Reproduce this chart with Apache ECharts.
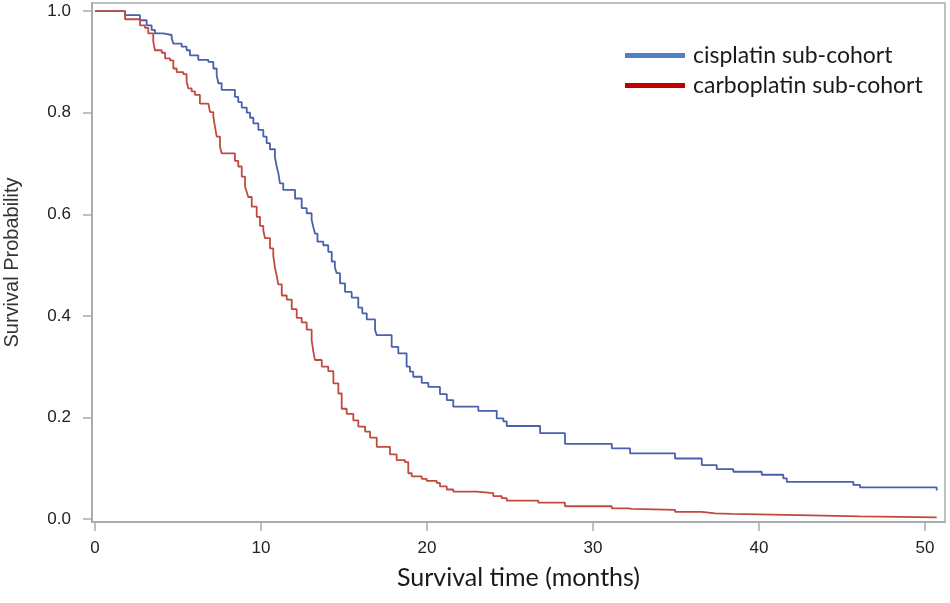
<!DOCTYPE html>
<html>
<head>
<meta charset="utf-8">
<script src="https://cdn.jsdelivr.net/npm/echarts@6/dist/echarts.min.js"></script>
<style>
html,body{margin:0;padding:0;background:#fff;}
#chart{width:950px;height:603px;}
</style>
</head>
<body>
<div id="chart"></div>
<script>
// Kaplan-Meier step points: [time (months), survival probability]
const seriesNames = ["cisplatin sub-cohort", "carboplatin sub-cohort"];
const xTicks = [0, 10, 20, 30, 40, 50];
const yTicks = [0, 0.2, 0.4, 0.6, 0.8, 1.0];

const cisplatin = [
  [0,1.0],[1.81,0.992],[2.71,0.982],[3.11,0.972],[3.41,0.963],[3.61,0.956],[4.12,0.953],
  [4.62,0.946],[4.72,0.936],[5.22,0.930],[5.52,0.923],[5.72,0.913],[6.22,0.904],[6.83,0.900],
  [7.13,0.887],[7.33,0.874],[7.43,0.858],[7.63,0.845],[8.43,0.831],[8.63,0.821],[8.84,0.810],
  [9.14,0.800],[9.34,0.790],[9.54,0.779],[9.84,0.766],[10.14,0.753],[10.34,0.740],[10.54,0.728],
  [10.84,0.712],[10.94,0.695],[11.05,0.680],[11.14,0.661],[11.34,0.648],[12.05,0.631],[12.45,0.612],
  [12.75,0.602],[13.05,0.589],[13.15,0.575],[13.25,0.562],[13.40,0.546],[13.75,0.539],[14.05,0.526],
  [14.26,0.507],[14.45,0.495],[14.56,0.484],[14.76,0.464],[15.06,0.447],[15.46,0.436],[15.86,0.416],
  [16.10,0.405],[16.37,0.393],[16.87,0.372],[16.97,0.362],[17.87,0.339],[18.27,0.326],[18.77,0.300],
  [18.97,0.290],[19.17,0.280],[19.68,0.268],[20.08,0.260],[20.78,0.246],[21.19,0.234],[21.58,0.221],
  [23.09,0.213],[24.20,0.198],[24.60,0.192],[24.80,0.183],[26.81,0.169],[28.31,0.148],[31.13,0.139],
  [32.23,0.129],[34.94,0.119],[36.55,0.106],[37.45,0.098],[38.45,0.093],[40.16,0.087],[41.46,0.080],
  [41.67,0.073],[45.68,0.067],[46.08,0.062],[50.70,0.056]
];

const carboplatin = [
  [0,1.0],[1.81,0.984],[2.71,0.972],[3.01,0.967],[3.21,0.956],[3.51,0.940],[3.61,0.923],[4.02,0.918],
  [4.22,0.907],[4.52,0.903],[4.72,0.887],[4.92,0.880],[5.32,0.876],[5.52,0.861],[5.62,0.848],
  [5.82,0.842],[6.02,0.835],[6.32,0.818],[6.83,0.815],[6.93,0.801],[7.13,0.792],[7.23,0.772],
  [7.33,0.753],[7.53,0.733],[7.63,0.720],[8.43,0.705],[8.63,0.694],[8.84,0.674],[9.04,0.654],
  [9.14,0.644],[9.23,0.634],[9.44,0.615],[9.74,0.595],[9.94,0.577],[10.14,0.568],[10.24,0.553],
  [10.54,0.533],[10.74,0.518],[10.84,0.495],[10.94,0.480],[11.04,0.462],[11.25,0.440],[11.55,0.432],
  [11.85,0.413],[12.15,0.396],[12.45,0.387],[12.75,0.373],[13.05,0.352],[13.15,0.330],[13.25,0.313],
  [13.66,0.300],[14.05,0.291],[14.36,0.267],[14.66,0.247],[14.86,0.217],[15.16,0.207],[15.56,0.194],
  [15.86,0.182],[16.27,0.172],[16.57,0.160],[16.97,0.142],[17.77,0.127],[18.17,0.116],[18.67,0.112],
  [18.87,0.090],[19.08,0.084],[19.68,0.079],[19.98,0.075],[20.58,0.071],[20.78,0.064],[21.19,0.058],
  [21.58,0.054],[22.99,0.051],[23.99,0.045],[24.50,0.041],[24.80,0.036],[26.70,0.032],[28.31,0.025],
  [31.13,0.021],[32.13,0.020],[32.33,0.018],[34.94,0.014],[36.55,0.011],[37.35,0.010],[38.36,0.008],
  [41.57,0.005],[46.08,0.003],[50.70,0.003]
];

const lineColors = ["#4860ad", "#c04a3e"];
const legendColors = ["#4f81c4", "#c00000"];
const axisGray = "#a7aeae";

const chart = echarts.init(document.getElementById('chart'), null, {renderer: 'canvas'});
chart.setOption({
  animation: false,
  backgroundColor: '#ffffff',
  grid: {
    left: 92, right: 5, top: 3, bottom: 81,
    containLabel: false, outerBoundsMode: 'none',
    show: true, borderColor: axisGray, borderWidth: 1.5, backgroundColor: 'transparent'
  },
  legend: {
    orient: 'vertical',
    left: 620, top: 39,
    itemWidth: 60, itemHeight: 5, itemGap: 7,
    icon: 'rect',
    textStyle: {fontFamily: 'Lato', fontSize: 23, lineHeight: 20, color: '#1a1a1a', padding: [0,0,0,3]},
    data: seriesNames.map((n, i) => ({name: n, itemStyle: {color: legendColors[i]}}))
  },
  xAxis: {
    type: 'value', min: -0.18, max: 51.2,
    name: 'Survival time (months)', nameLocation: 'middle', nameGap: 43,
    nameTextStyle: {fontFamily: 'Lato', fontSize: 25, color: '#1a1a1a'},
    axisLine: {show: true, onZero: false, lineStyle: {color: axisGray, width: 2}},
    axisTick: {show: true, length: 9, customValues: xTicks, lineStyle: {color: axisGray, width: 1.5}},
    axisLabel: {customValues: xTicks, margin: 18, fontFamily: 'Liberation Sans', fontSize: 17, color: '#222'},
    splitLine: {show: false}
  },
  yAxis: {
    type: 'value', min: -0.006, max: 1.016,
    name: 'Survival Probability', nameLocation: 'middle', nameGap: 70,
    nameTextStyle: {fontFamily: 'Liberation Sans', fontSize: 20, color: '#333'},
    axisLine: {show: true, onZero: false, lineStyle: {color: axisGray, width: 2}},
    axisTick: {show: true, length: 9, customValues: yTicks, lineStyle: {color: axisGray, width: 1.5}},
    axisLabel: {customValues: yTicks, margin: 21, fontFamily: 'Liberation Sans', fontSize: 17, color: '#222',
      formatter: v => v.toFixed(1)},
    splitLine: {show: false}
  },
  series: [
    {name: seriesNames[0], type: 'line', step: 'end', data: cisplatin, showSymbol: false, symbol: 'none',
     lineStyle: {color: lineColors[0], width: 1.8}, itemStyle: {color: lineColors[0]}},
    {name: seriesNames[1], type: 'line', step: 'end', data: carboplatin, showSymbol: false, symbol: 'none',
     lineStyle: {color: lineColors[1], width: 1.8}, itemStyle: {color: lineColors[1]}}
  ]
});
</script>
</body>
</html>
